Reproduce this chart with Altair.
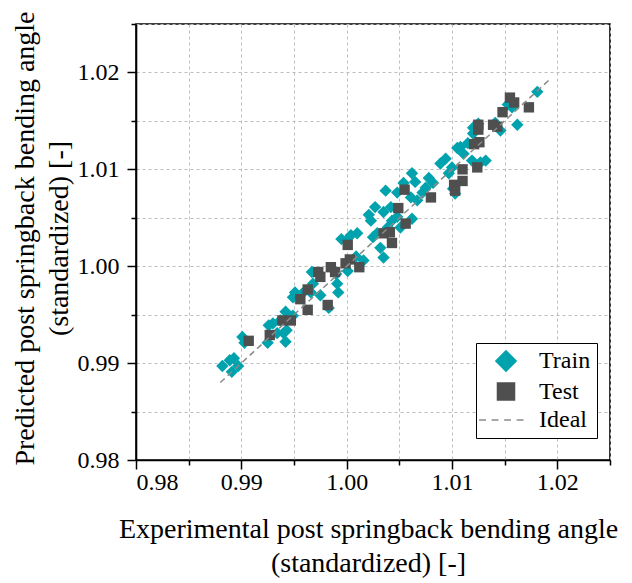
import altair as alt
import pandas as pd

# ---------------- data ----------------
train_x = [0.9882, 0.9889, 0.9893, 0.9891, 0.9897, 0.9901, 0.9903, 0.9925, 0.9926, 0.9930,
           0.9934, 0.9940, 0.9942, 0.9942, 0.9949, 0.9949, 0.9958, 0.9967, 0.9968, 0.9966,
           0.9975, 0.9983, 0.9990, 0.9991, 0.9992, 1.0001, 0.9995, 1.0004, 1.0010, 1.0016,
           1.0009, 1.0023, 1.0029, 1.0032, 1.0035, 1.0039, 1.0025, 1.0037, 1.0027, 1.0021,
           1.0035, 1.0042, 1.0043, 1.0048, 1.0051, 1.0048, 1.0054, 1.0062, 1.0065, 1.0061,
           1.0062, 1.0067, 1.0075, 1.0078, 1.0082, 1.0072, 1.0089, 1.0094, 1.0100, 1.0097,
           1.0101, 1.0103, 1.0108, 1.0115, 1.0111, 1.0105, 1.0119, 1.0127, 1.0132, 1.0120,
           1.0125, 1.0141, 1.0146, 1.0120, 1.0162, 1.0153, 1.0157, 1.0181, 0.9951, 0.9943,
           0.9937, 1.0000]
train_y = [0.9897, 0.9903, 0.9905, 0.9891, 0.9897, 0.9927, 0.9921, 0.9921, 0.9939, 0.9941,
           0.9931, 0.9931, 0.9922, 0.9953, 0.9949, 0.9968, 0.9972, 0.9994, 0.9982, 0.9973,
           0.9970, 0.9957, 0.9992, 0.9982, 0.9973, 0.9995, 1.0028, 1.0032, 1.0034, 1.0006,
           1.0010, 1.0047, 1.0034, 1.0019, 1.0009, 1.0040, 1.0030, 1.0078, 1.0061, 1.0053,
           1.0056, 1.0061, 1.0047, 1.0051, 1.0040, 1.0076, 1.0086, 1.0096, 1.0087, 1.0071,
           1.0049, 1.0068, 1.0081, 1.0091, 1.0086, 1.0076, 1.0106, 1.0111, 1.0102, 1.0096,
           1.0080, 1.0075, 1.0123, 1.0127, 1.0116, 1.0122, 1.0109, 1.0107, 1.0109, 1.0143,
           1.0147, 1.0148, 1.0140, 1.0137, 1.0146, 1.0167, 1.0164, 1.0180, 0.9973, 0.9934,
           0.9944, 1.0027]

test_x = [0.9907, 0.9927, 0.9939, 0.9947, 0.9956, 0.9963, 0.9963, 0.9973, 0.9975, 0.9982,
          0.9985, 0.9989, 0.9999, 1.0003, 1.0012, 1.0001, 1.0035, 1.0041, 1.0043, 1.0049,
          1.0056, 1.0055, 1.0080, 1.0102, 1.0103, 1.0110, 1.0110, 1.0124, 1.0121, 1.0126,
          1.0125, 1.0125, 1.0139, 1.0143, 1.0148, 1.0155, 1.0159, 1.0173]
test_y = [0.9923, 0.9929, 0.9944, 0.9944, 0.9966, 0.9955, 0.9976, 0.9994, 0.9989, 0.9960,
          0.9999, 0.9994, 1.0003, 1.0007, 0.9999, 1.0022, 1.0034, 1.0035, 1.0024, 1.0060,
          1.0044, 1.0079, 1.0071, 1.0084, 1.0078, 1.0100, 1.0088, 1.0102, 1.0126, 1.0128,
          1.0146, 1.0141, 1.0146, 1.0144, 1.0159, 1.0174, 1.0169, 1.0164]

ideal_x = [0.988, 1.0192]
ideal_y = [0.988, 1.0192]

series_names = ["Train", "Test", "Ideal"]
tick_values = [0.98, 0.985, 0.99, 0.995, 1.00, 1.005, 1.01, 1.015, 1.02, 1.025]
domain = [0.98, 1.025]

# ---------------- tables ----------------
pts = pd.concat([
    pd.DataFrame({"x": train_x, "y": train_y, "series": "Train"}),
    pd.DataFrame({"x": test_x, "y": test_y, "series": "Test"}),
], ignore_index=True)
ideal = pd.DataFrame({"x": ideal_x, "y": ideal_y})

FONT = "Liberation Serif"
TEAL = "#00A3AD"
DARK = "#4F4F4F"
GREY = "#8A8A8A"

diamond = "M-1.19,0L0,-1.19L1.19,0L0,1.19Z"
dash_path = "M-3.16,0L-2.35,0M-1.69,0L-0.88,0M-0.22,0L0.59,0M1.25,0L2.06,0"

major_test = "abs(round(datum.value*100) - datum.value*100) < 0.01"

def make_axis(title, is_x):
    common = dict(
        values=tick_values,
        labelExpr=f"{major_test} ? format(datum.value, '.2f') : ''",
        labelFont=FONT, labelFontSize=24, labelColor="black",
        titleFont=FONT, titleFontSize=28, titleFontWeight="normal", titleColor="black",
        titleLineHeight=34,
        tickSize={"condition": {"test": major_test, "value": 9}, "value": 5},
        tickColor="black", tickWidth=1.5,
        domainColor="black", domainWidth=1.6,
        grid=True, gridColor="#BDBDBD", gridDash=[3, 3], gridWidth=1,
        title=title,
    )
    if is_x:
        common.update(titleX=232, titleY=77, titleAlign="center", titleBaseline="alphabetic",
                      labelBaseline="top", labelPadding=1)
    else:
        common.update(titleX=-103, titleY=214, titleAngle=270, titleAlign="center",
                      titleBaseline="alphabetic", labelPadding=8)
    return alt.Axis(**common)

xs = alt.Scale(domain=domain, nice=False, zero=False)
ys = alt.Scale(domain=domain, nice=False, zero=False)

legend = alt.Legend(
    title=None, orient="none", legendX=340, legendY=319,
    labelFont=FONT, labelFontSize=24, labelColor="black",
    symbolSize=290, symbolStrokeWidth=1.5, symbolOffset=12, labelOffset=21,
    rowPadding=4.5, padding=6, strokeColor="black", fillColor="white",
    cornerRadius=0,
)

shape_scale = alt.Scale(domain=series_names, range=[diamond, "square", dash_path])
col_scale = alt.Scale(domain=series_names, range=[TEAL, DARK, GREY])

points = alt.Chart(pts).mark_point(filled=True, opacity=1, size=108, strokeWidth=0).encode(
    x=alt.X("x:Q", scale=xs, axis=make_axis(
        ["Experimental post springback bending angle", "(standardized) [-]"], True)),
    y=alt.Y("y:Q", scale=ys, axis=make_axis(
        ["Predicted post springback bending angle", "(standardized) [-]"], False)),
    shape=alt.Shape("series:N", scale=shape_scale, legend=legend, sort=series_names),
    fill=alt.Fill("series:N", scale=col_scale, legend=legend, sort=series_names),
    stroke=alt.Stroke("series:N", scale=col_scale, legend=legend, sort=series_names),
    order=alt.Order("idx:Q"),
).transform_window(idx="row_number()")

line = alt.Chart(ideal).mark_line(color=GREY, strokeWidth=1.5, strokeDash=[6, 4]).encode(
    x=alt.X("x:Q", scale=xs),
    y=alt.Y("y:Q", scale=ys),
)

chart = alt.layer(points, line).properties(
    width=474, height=436,
    autosize=alt.AutoSizeParams(type="none"),
    padding={"left": 136, "top": 24, "right": 22, "bottom": 123},
    background="white",
).configure_view(
    stroke="black", strokeWidth=1.6,
)

chart.save("out.html", embed_options={"renderer": "svg", "actions": False})
